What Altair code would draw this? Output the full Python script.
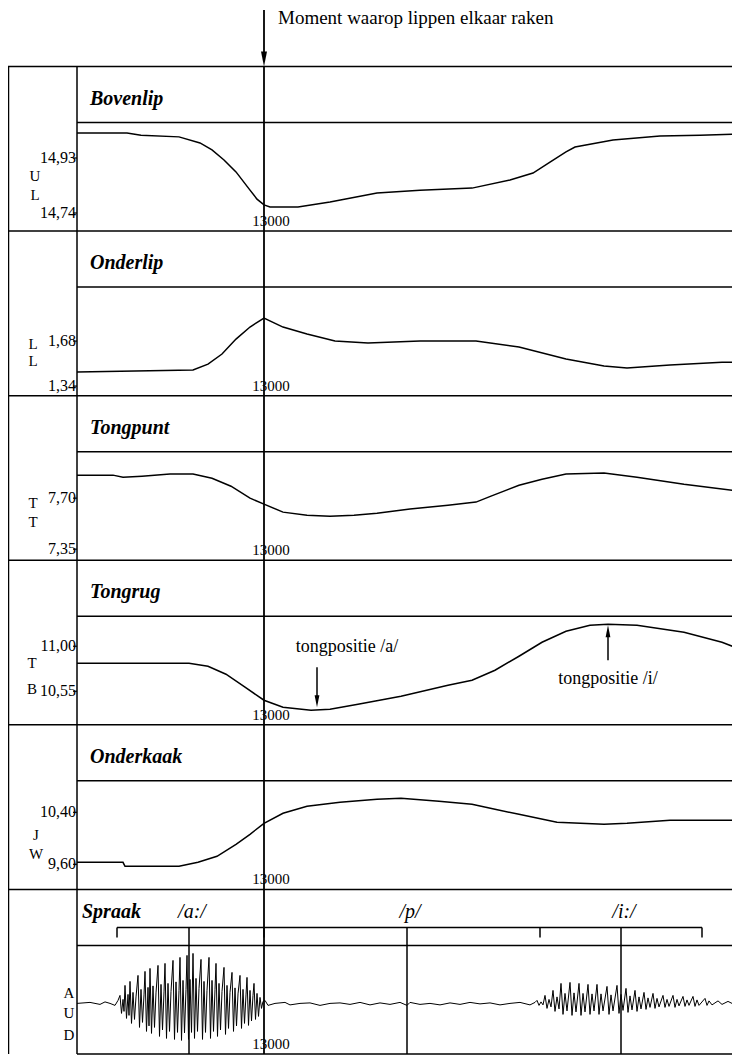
import altair as alt
import pandas as pd

# ---------------- data ----------------
TITLE = "Moment waarop lippen elkaar raken"
MARK_T = 13000            # moment the lips touch
T_DOMAIN = [12744, 13468]  # time range shown
LEFT_T = 12813             # start of the signal area

PANEL_NAMES = ["Bovenlip", "Onderlip", "Tongpunt", "Tongrug", "Onderkaak", "Spraak"]
CHANNEL_CODES = [["U", "L"], ["L", "L"], ["T", "T"], ["T", "B"], ["J", "W"], ["A", "U", "D"]]

UL_TICKS = [14.74, 14.93]
UL_T = [12813, 12863, 12877, 12915, 12936, 12948, 12960, 12972, 12986, 12993, 13000, 13006, 13034,
        13066, 13113, 13156, 13208, 13246, 13269, 13286, 13302, 13311, 13349, 13396, 13436, 13476]
UL_V = [15.016, 15.016, 15.009, 15.003, 14.982, 14.958, 14.923, 14.882, 14.819, 14.788, 14.768, 14.761, 14.761,
        14.778, 14.809, 14.819, 14.826, 14.854, 14.878, 14.916, 14.951, 14.968, 14.992, 15.006, 15.009, 15.013]

LL_TICKS = [1.34, 1.68]
LL_T = [12813, 12929, 12944, 12958, 12972, 12986, 13000, 13019, 13043, 13071,
        13104, 13156, 13212, 13255, 13302, 13340, 13363, 13406, 13458, 13476]
LL_V = [1.446, 1.461, 1.506, 1.582, 1.695, 1.786, 1.854, 1.786, 1.733, 1.680,
        1.665, 1.680, 1.680, 1.635, 1.544, 1.491, 1.476, 1.499, 1.521, 1.521]

TT_TICKS = [7.35, 7.70]
TT_T = [12813, 12849, 12859, 12878, 12906, 12929, 12948, 12967, 12986, 13000, 13019, 13043, 13066,
        13090, 13113, 13146, 13184, 13212, 13227, 13255, 13278, 13302, 13340, 13373, 13420, 13476]
TT_V = [7.858, 7.858, 7.844, 7.851, 7.865, 7.865, 7.837, 7.782, 7.700, 7.659, 7.604, 7.583, 7.576,
        7.583, 7.597, 7.625, 7.652, 7.673, 7.714, 7.789, 7.830, 7.865, 7.872, 7.844, 7.796, 7.748]

TB_TICKS = [10.55, 11.00]
TB_T = [12813, 12925, 12944, 12962, 12981, 13000, 13019, 13047, 13066, 13094, 13137, 13184,
        13208, 13231, 13255, 13278, 13302, 13326, 13344, 13373, 13420, 13458, 13476]
TB_V = [10.83, 10.83, 10.80, 10.72, 10.59, 10.46, 10.39, 10.36, 10.37, 10.42, 10.50, 10.61,
        10.66, 10.76, 10.90, 11.04, 11.15, 11.21, 11.22, 11.21, 11.14, 11.04, 10.97]

JW_TICKS = [9.60, 10.40]
JW_T = [12813, 12859, 12861, 12915, 12934, 12953, 12972, 12986, 13000, 13019, 13043, 13076,
        13113, 13137, 13175, 13208, 13231, 13255, 13293, 13340, 13363, 13406, 13476]
JW_V = [9.631, 9.631, 9.569, 9.569, 9.631, 9.723, 9.908, 10.062, 10.231, 10.385, 10.492, 10.554,
        10.600, 10.615, 10.569, 10.523, 10.446, 10.369, 10.246, 10.215, 10.231, 10.277, 10.277]

ANNOT_TEXT = ["tongpositie /a/", "tongpositie /i/"]
ANNOT_T = [13083, 13344]
ANNOT_V = [10.99, 10.67]
ARROW_T = [13053, 13344]
ARROW_TAIL = [10.79, 10.86]
ARROW_HEAD = [10.45, 11.15]
ARROW_DIR = ["down", "up"]

SEG_LABELS = ["/a:/", "/p/", "/i:/"]
SEG_START = [12853, 13000, 13276]
SEG_END = [13000, 13276, 13438]
SEG_MID = [12925, 13143, 13357]

# speech waveform (normalised amplitude), read peak by peak
WAVE_T = [
    12813, 12826, 12836, 12841, 12846, 12851, 12854,
    12856, 12857.5, 12859, 12860,
    12861, 12862.5, 12864, 12865,
    12866, 12867.5, 12869, 12870.5, 12872,
    12874, 12875.5, 12877, 12878.5, 12880,
    12881, 12882.5, 12884, 12885,
    12886, 12887.5, 12889, 12890.5, 12892,
    12894, 12895.5, 12897, 12898.5, 12900,
    12901, 12902.5, 12904, 12905.5, 12907,
    12909, 12910.5, 12912, 12913.5, 12915,
    12916, 12917.5, 12919, 12920.5, 12922,
    12923, 12924.5, 12926, 12927.5,
    12929, 12930.5, 12932, 12933.5, 12935,
    12937, 12938.5, 12940, 12941.5, 12943,
    12945, 12946.5, 12948, 12949.5, 12951,
    12952, 12953.5, 12955, 12956.5, 12958,
    12960, 12961.5, 12963, 12964.5, 12966,
    12968, 12969.5, 12971, 12972.5, 12974,
    12976, 12977.5, 12979, 12980.5, 12982,
    12983, 12984.5, 12986, 12987.5, 12989,
    12990, 12991.5, 12993, 12994.5,
    12996, 12997.5, 12999,
    13001, 13004, 13011, 13021, 13026, 13036, 13046, 13056, 13066, 13076,
    13086, 13096, 13106, 13116, 13126, 13136, 13143, 13146, 13156, 13166,
    13176, 13186, 13196, 13206, 13216, 13226, 13236, 13246, 13256, 13266, 13271,
    13273, 13275, 13277, 13279,
    13281, 13283, 13285, 13287,
    13289, 13291, 13293, 13295,
    13297, 13299, 13301, 13303,
    13306, 13308, 13310, 13312,
    13315, 13317, 13319, 13321,
    13324, 13326, 13328, 13330,
    13333, 13335, 13337, 13339,
    13343, 13345, 13347, 13349,
    13353, 13355, 13357, 13359,
    13362, 13364, 13366, 13368,
    13371, 13373, 13375, 13377,
    13380, 13382, 13384, 13386,
    13389, 13391, 13393, 13395,
    13399, 13401, 13403, 13405,
    13409, 13411, 13413, 13415,
    13419, 13421, 13423, 13425,
    13429, 13431, 13433, 13435,
    13441, 13443, 13445,
    13448, 13454, 13458, 13464, 13470, 13476,
]
WAVE_A = [
    0.0, 0.02, -0.02, 0.03, 0.0, -0.04, 0.06,
    0.16, -0.20, 0.08, -0.16,
    0.36, -0.30, 0.18, -0.24,
    0.44, -0.40, 0.22, -0.32, 0.13,
    0.56, -0.48, 0.28, -0.38, 0.17,
    0.64, -0.56, 0.32, -0.45,
    0.70, -0.60, 0.35, -0.48, 0.21,
    0.76, -0.66, 0.38, -0.53, 0.23,
    0.80, -0.70, 0.40, -0.56, 0.24,
    0.86, -0.72, 0.43, -0.58, 0.26,
    0.92, -0.74, 0.46, -0.59, 0.28,
    0.96, -0.72, 0.48, -0.58,
    1.00, -0.70, 0.50, -0.56, 0.30,
    0.88, -0.72, 0.44, -0.58, 0.26,
    0.92, -0.70, 0.46, -0.56, 0.28,
    0.80, -0.66, 0.40, -0.53, 0.24,
    0.72, -0.62, 0.36, -0.50, 0.22,
    0.62, -0.56, 0.31, -0.45, 0.19,
    0.56, -0.50, 0.28, -0.40, 0.17,
    0.52, -0.44, 0.26, -0.35, 0.16,
    0.40, -0.32, 0.20, -0.26,
    0.12, -0.10, 0.04,
    0.06, -0.04, 0.0, 0.02, -0.03, 0.0, 0.01, -0.04, 0.0, 0.01,
    -0.02, 0.02, -0.03, 0.01, -0.02, 0.02, -0.04, 0.02, -0.02, 0.0,
    -0.03, 0.01, -0.02, 0.02, -0.01, 0.01, -0.03, 0.0, 0.02, -0.03, 0.02,
    0.06, -0.04, 0.03, -0.03,
    0.16, -0.10, 0.08, -0.07,
    0.26, -0.16, 0.13, -0.11,
    0.40, -0.22, 0.20, -0.15,
    0.42, -0.24, 0.21, -0.17,
    0.40, -0.24, 0.20, -0.17,
    0.38, -0.22, 0.19, -0.15,
    0.38, -0.22, 0.19, -0.15,
    0.34, -0.22, 0.17, -0.15,
    0.36, -0.20, 0.18, -0.14,
    0.30, -0.18, 0.15, -0.13,
    0.26, -0.16, 0.13, -0.11,
    0.22, -0.12, 0.11, -0.08,
    0.20, -0.10, 0.10, -0.07,
    0.16, -0.08, 0.08, -0.06,
    0.16, -0.08, 0.08, -0.05,
    0.14, -0.06, 0.07, -0.04,
    0.14, -0.06, 0.07, -0.04,
    0.10, -0.04, 0.05,
    -0.03, 0.05, -0.02, 0.04, -0.02, 0.02,
]

# ---------------- layout / style ----------------
INK = "black"
SERIF = "Liberation Serif"
W = 724
HEAD_H = 58.5
H = 164.58                  # drawn height of one strip
SCALE_H = 165.5             # height the value scales of one strip span
TOTAL_H = 1047
BOTTOM = HEAD_H + 6 * H
TOPS = [HEAD_H + i * H for i in range(6)]
ROW_Y = 56
DOWN_PATH = "M-0.4,-1L0.4,-1L0,1Z"
UP_PATH = "M-0.4,1L0.4,1L0,-1Z"

DOMAINS = [[14.6744, 15.2461], [1.2607, 2.5111], [7.2676, 8.4034], [10.205, 11.86],
           [9.20, 11.7462], [-1.03, 2.28]]
CODE_X = [27, 25, 25, 24, 28, 61]
CODE_Y = [[109.5, 128.5], [113, 130], [107.5, 126.5], [103, 129], [110.5, 129.5], [104, 124, 146]]
NAME_XY = [(82, 32)] * 5 + [(74, 23)]

one = pd.DataFrame({"d": [0]})
xs = alt.Scale(domain=T_DOMAIN, nice=False, zero=False)


def ysc(i):
    top = TOPS[i]
    return alt.Scale(domain=DOMAINS[i], range=[top + SCALE_H, top], nice=False, zero=False)


def xd(t):
    return alt.XDatum(t, type="quantitative", scale=xs, axis=None)


def xf(field):
    return alt.X(field, type="quantitative", scale=xs, axis=None)


def yf(field, i):
    return alt.Y(field, type="quantitative", scale=ysc(i), axis=None)


def rule(width=1.5, **enc):
    return alt.Chart(one).mark_rule(color=INK, strokeWidth=width).encode(**enc)


def label(text, x, y, **kw):
    return alt.Chart(one).mark_text(text=text, color=INK, font=SERIF, **kw).encode(
        x=alt.value(x), y=alt.value(y))


layers = []

# header: title and arrow down to the contact moment
layers += [
    alt.Chart(one).mark_text(text=TITLE, font=SERIF, fontSize=19, align="left", baseline="middle",
                             color=INK, dx=14).encode(x=xd(MARK_T), y=alt.value(10)),
    rule(width=1.8, x=xd(MARK_T), y=alt.value(2), y2=alt.value(HEAD_H - 6)),
    alt.Chart(one).mark_point(shape=DOWN_PATH, size=225, filled=True, opacity=1, color=INK,
                              strokeWidth=0).encode(x=xd(MARK_T), y=alt.value(HEAD_H - 7.5)),
]

# long verticals and bottom border
layers += [
    rule(x=alt.value(0.5), y=alt.value(TOPS[0]), y2=alt.value(BOTTOM)),
    rule(x=xd(LEFT_T), y=alt.value(TOPS[0]), y2=alt.value(BOTTOM)),
    rule(width=1.8, x=xd(MARK_T), y=alt.value(TOPS[0]), y2=alt.value(BOTTOM)),
    rule(x=xd(LEFT_T), x2=alt.value(W), y=alt.value(BOTTOM)),
]

# per-strip frame, names, channel codes, "13000"
for i, top in enumerate(TOPS):
    nx, ny = NAME_XY[i]
    layers += [
        rule(x=alt.value(0), x2=alt.value(W), y=alt.value(top)),
        rule(x=xd(LEFT_T), x2=alt.value(W), y=alt.value(top + ROW_Y)),
        alt.Chart(one).mark_text(text=str(MARK_T), font=SERIF, fontSize=15, color=INK,
                                 dx=7, baseline="middle").encode(x=xd(MARK_T), y=alt.value(top + H - 10)),
        label(PANEL_NAMES[i], nx, top + ny, fontSize=20, fontStyle="italic", fontWeight="bold",
              align="left", baseline="middle"),
    ]
    for c, cy in zip(CHANNEL_CODES[i], CODE_Y[i]):
        layers.append(label(c, CODE_X[i], top + cy, fontSize=15, align="center", baseline="middle"))

# articulator curves with their two value labels
SERIES = [(UL_T, UL_V, UL_TICKS), (LL_T, LL_V, LL_TICKS), (TT_T, TT_V, TT_TICKS),
          (TB_T, TB_V, TB_TICKS), (JW_T, JW_V, JW_TICKS)]
for i, (t, v, ticks) in enumerate(SERIES):
    tk = pd.DataFrame({"v": ticks, "lab": [f"{x:.2f}".replace(".", ",") for x in ticks]})
    layers += [
        alt.Chart(pd.DataFrame({"t": t, "v": v})).mark_line(color=INK, strokeWidth=1.5).encode(
            x=xf("t"), y=yf("v", i)),
        alt.Chart(tk).mark_text(font=SERIF, fontSize=16, color=INK, align="right", baseline="middle").encode(
            x=alt.value(68), y=yf("v", i), text="lab:N"),
        alt.Chart(tk).mark_rule(color=INK, strokeWidth=1.2).encode(
            x=alt.value(65), x2=alt.value(69), y=yf("v", i)),
    ]

# tongue-back annotations
ann = pd.DataFrame({"t": ANNOT_T, "v": ANNOT_V, "txt": ANNOT_TEXT})
arr = pd.DataFrame({"t": ARROW_T, "tail": ARROW_TAIL, "head": ARROW_HEAD, "dir": ARROW_DIR})
layers += [
    alt.Chart(ann).mark_text(font=SERIF, fontSize=18, color=INK, baseline="middle").encode(
        x=xf("t"), y=yf("v", 3), text="txt:N"),
    alt.Chart(arr).mark_rule(color=INK, strokeWidth=1.5).encode(
        x=xf("t"), y=yf("tail", 3), y2="head:Q"),
    alt.Chart(arr).mark_point(size=144, filled=True, opacity=1, color=INK, strokeWidth=0).encode(
        x=xf("t"), y=yf("head", 3),
        shape=alt.Shape("dir:N", scale=alt.Scale(domain=["down", "up"], range=[DOWN_PATH, UP_PATH]),
                        legend=None)),
]

# speech strip: segment brackets, labels and waveform
BRACKET_V, BRACKET_TICK_V, SEG_LABEL_V = 1.52, 1.32, 1.82
seg = pd.DataFrame({"mid": SEG_MID, "lab": SEG_LABELS})
bnd = pd.DataFrame({"b": sorted(set(SEG_START + SEG_END))})
layers += [
    alt.Chart(one).mark_rule(color=INK, strokeWidth=1.5).encode(
        x=xd(SEG_START[0]), x2=alt.X2Datum(SEG_END[-1]),
        y=alt.YDatum(BRACKET_V, type="quantitative", scale=ysc(5), axis=None)),
    alt.Chart(bnd).mark_rule(color=INK, strokeWidth=1.5).encode(
        x=xf("b"), y=alt.YDatum(BRACKET_V, type="quantitative", scale=ysc(5), axis=None),
        y2=alt.Y2Datum(BRACKET_TICK_V)),
    alt.Chart(seg).mark_rule(color=INK, strokeWidth=1.5).encode(
        x=xf("mid"), y=alt.YDatum(BRACKET_V, type="quantitative", scale=ysc(5), axis=None),
        y2=alt.value(BOTTOM)),
    alt.Chart(seg).mark_text(font=SERIF, fontSize=20, fontStyle="italic", color=INK, dx=3,
                             baseline="middle").encode(
        x=xf("mid"), y=alt.YDatum(SEG_LABEL_V, type="quantitative", scale=ysc(5), axis=None),
        text="lab:N"),
    alt.Chart(pd.DataFrame({"t": WAVE_T, "a": WAVE_A})).mark_line(color=INK, strokeWidth=1).encode(
        x=xf("t"), y=yf("a", 5)),
]

chart = (
    alt.layer(*layers)
    .resolve_scale(y="independent")
    .properties(width=W, height=TOTAL_H, padding=0, autosize=alt.AutoSizeParams(type="none"))
    .configure_view(strokeWidth=0)
)

chart.save("out.html", embed_options={"renderer": "svg", "actions": False})
